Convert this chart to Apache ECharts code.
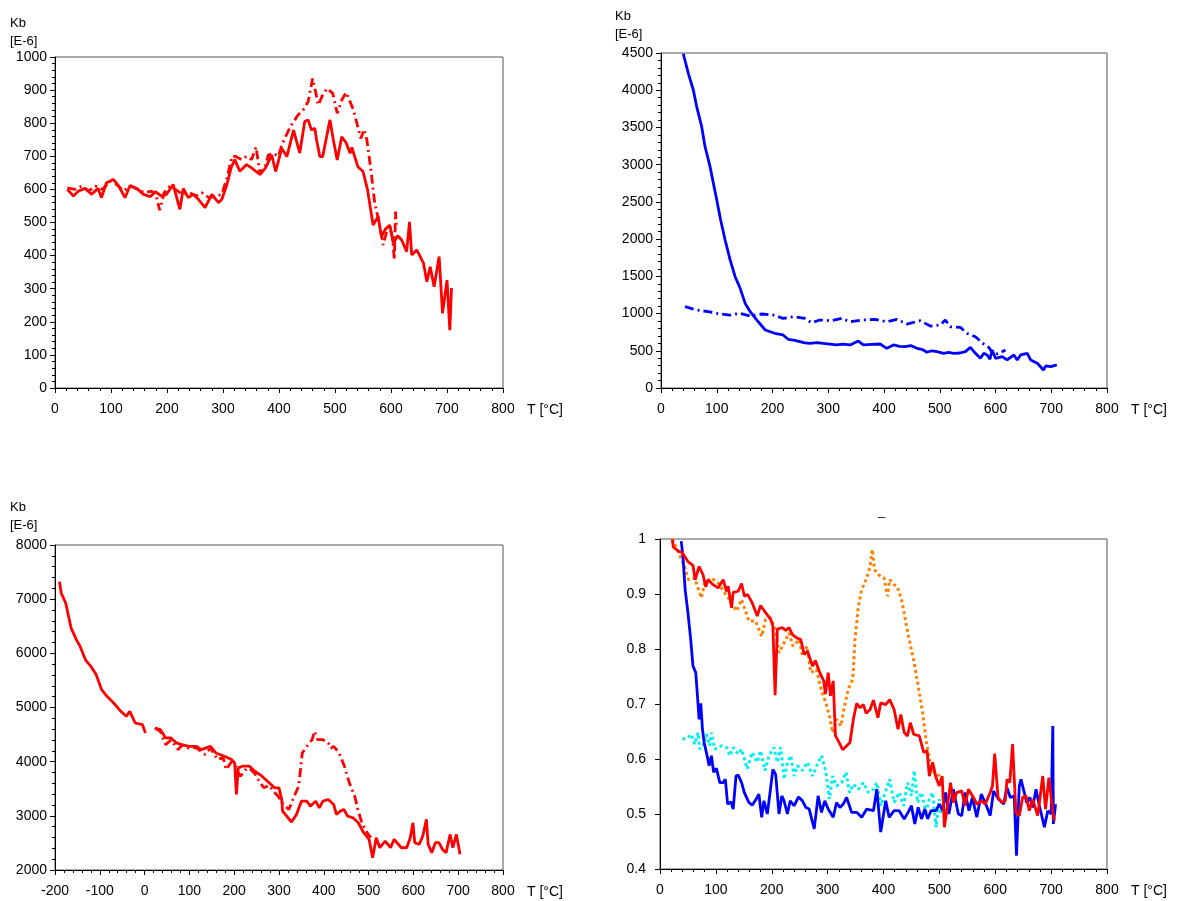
<!DOCTYPE html>
<html>
<head>
<meta charset="utf-8" />
<title>Kb vs T</title>
<script src="https://cdn.jsdelivr.net/npm/echarts@6/dist/echarts.min.js"></script>
<style>
  * { margin: 0; padding: 0; }
  body { background: #fff; }
  #chart-container { width: 1183px; height: 901px; }
</style>
</head>
<body>
<div id="chart-container"></div>
<script>
// panel 1: Kb [E-6], 0..1000
var p1Solid = [
  [22,600],[33,580],[42,595],[54,603],[65,585],[77,603],[83,575],[92,620],[104,630],[113,612],
  [125,575],[134,612],[146,603],[158,585],[170,578],[179,593],[190,580],[199,585],[211,615],[223,540],
  [229,603],[238,575],[247,585],[256,570],[268,545],[280,585],[292,560],[298,570],[307,615],[315,668],
  [321,690],[330,655],[342,675],[351,665],[366,645],[376,665],[387,704],[394,654],[405,724],[414,699],
  [426,779],[437,710],[446,805],[452,810],[458,779],[464,785],[467,750],[473,699],[478,699],[485,759],
  [491,810],[497,750],[504,689],[512,759],[520,740],[527,709],[530,727],[541,668],[550,654],[558,600],
  [568,492],[577,518],[583,457],[590,480],[598,492],[604,437],[612,460],[619,447],[628,412],[633,502],
  [637,402],[646,417],[658,377],[664,321],[670,366],[677,306],[686,397],[692,226],[700,326],[705,175],
  [708,302]
];
var p1Dash = [
  [22,605],[35,600],[48,610],[60,595],[72,610],[85,600],[98,625],[110,615],[122,595],[135,610],
  [148,600],[160,590],[172,595],[180,585],[187,537],[195,590],[205,610],[215,600],[228,585],[240,590],
  [252,580],[262,590],[275,575],[288,580],[298,585],[308,640],[316,700],[322,700],[333,690],[342,700],
  [351,690],[359,728],[366,648],[375,669],[381,704],[390,709],[399,700],[405,734],[420,789],[434,825],
  [443,840],[452,865],[460,935],[466,890],[470,855],[478,885],[486,905],[496,890],[504,830],[512,870],
  [520,893],[533,840],[546,754],[552,781],[557,749],[564,660],[571,558],[579,500],[586,432],[592,470],
  [598,487],[603,450],[606,387],[608,533],[610,480]
];

// panel 2: Kb [E-6], 0..4500
var p2Solid = [
  [40,4490],[49,4227],[58,4003],[64,3779],[73,3510],[79,3242],[88,2973],[94,2749],[100,2525],[107,2257],
  [115,1988],[124,1720],[133,1495],[142,1339],[151,1137],[160,1025],[172,913],[187,779],[204,735],[219,712],
  [228,654],[240,640],[249,623],[258,605],[267,600],[280,610],[291,600],[303,590],[315,578],[327,590],
  [339,578],[354,631],[363,578],[378,585],[393,591],[405,533],[417,578],[428,560],[438,555],[448,570],
  [459,533],[468,520],[477,480],[486,500],[495,488],[507,466],[516,480],[525,466],[536,470],[546,488],
  [555,546],[564,466],[573,399],[579,466],[585,444],[590,386],[594,511],[600,399],[612,421],[621,377],
  [633,444],[639,377],[645,444],[657,466],[663,377],[675,332],[686,242],[690,296],[699,287],[710,310]
];
var p2Dash = [
  [43,1092],[64,1047],[85,1025],[100,1003],[124,980],[142,1003],[160,967],[181,994],[202,980],[219,935],
  [237,958],[258,935],[270,877],[285,913],[306,904],[324,935],[339,890],[363,913],[384,922],[405,890],
  [423,922],[441,859],[465,904],[483,832],[501,846],[510,913],[519,823],[537,814],[549,734],[564,689],
  [579,590],[588,546],[597,444],[606,466],[618,511]
];

// panel 3: Kb [E-6], 2000..8000
var p3Solid = [
  [-190,7324],[-186,7110],[-176,6925],[-164,6465],[-152,6250],[-144,6127],[-132,5881],[-120,5760],[-108,5605],[-96,5330],
  [-84,5207],[-69,5083],[-53,4930],[-41,4837],[-33,4930],[-21,4714],[-5,4684],[2,4530],[10,'-'],
  [23,4622],[35,4592],[47,4438],[59,4438],[71,4346],[83,4315],[99,4284],[115,4284],[127,4223],[147,4284],
  [159,4161],[178,4100],[194,4039],[201,3977],[205,3394],[209,3885],[218,3916],[234,3916],[246,3824],[262,3732],
  [278,3609],[290,3517],[300,3517],[306,3302],[308,3087],[314,3026],[328,2886],[339,3026],[350,3271],[362,3271],
  [370,3179],[382,3271],[390,3148],[398,3271],[410,3302],[422,3210],[428,3026],[437,3087],[445,3118],[453,2995],
  [465,2964],[477,2872],[489,2688],[501,2566],[509,2227],[517,2596],[525,2411],[537,2534],[549,2411],[557,2566],
  [573,2411],[585,2411],[593,2596],[599,2872],[603,2504],[613,2473],[621,2627],[629,2934],[633,2473],[641,2320],
  [649,2504],[657,2504],[665,2381],[673,2320],[682,2657],[688,2411],[696,2657],[704,2289]
];
var p3Dash = [
  [23,4622],[35,4560],[47,4315],[59,4400],[75,4223],[83,4300],[99,4250],[115,4260],[135,4130],[147,4250],
  [163,4039],[175,4080],[182,3854],[194,4000],[201,3950],[209,3800],[214,3732],[225,3850],[234,3880],[246,3780],
  [255,3650],[266,3517],[278,3560],[288,3450],[298,3363],[306,3250],[314,3179],[322,3118],[334,3363],[344,3547],
  [352,4161],[362,4284],[374,4407],[379,4561],[386,4407],[398,4407],[410,4346],[416,4250],[422,4284],[434,4161],
  [446,3916],[457,3609],[469,3363],[477,3087],[485,2872],[497,2688],[505,2600]
];

// panel 4: normalised, 0.4..1
var p4Red = [
  [22,0.999],[24,0.985],[33,0.978],[40,0.975],[50,0.959],[59,0.952],[63,0.926],[70,0.950],[77,0.935],[82,0.913],
  [86,0.926],[95,0.917],[104,0.911],[113,0.926],[119,0.905],[122,0.914],[128,0.875],[131,0.903],[140,0.905],[146,0.919],
  [151,0.896],[157,0.899],[165,0.884],[174,0.860],[180,0.879],[189,0.866],[198,0.854],[202,0.842],[206,0.716],[210,0.836],
  [219,0.839],[225,0.834],[231,0.839],[237,0.826],[245,0.820],[252,0.817],[258,0.790],[264,0.796],[273,0.769],[278,0.779],
  [286,0.757],[293,0.742],[296,0.718],[301,0.757],[305,0.715],[310,0.742],[314,0.642],[319,0.633],[327,0.617],[340,0.630],
  [346,0.672],[352,0.701],[358,0.693],[364,0.699],[369,0.683],[376,0.690],[382,0.707],[390,0.675],[395,0.702],[404,0.699],
  [411,0.708],[419,0.690],[426,0.654],[431,0.681],[437,0.648],[443,0.642],[448,0.666],[454,0.645],[464,0.642],[472,0.612],
  [478,0.615],[482,0.569],[488,0.594],[494,0.566],[500,0.551],[505,0.569],[509,0.476],[516,0.527],[520,0.557],[525,0.521],
  [531,0.539],[540,0.542],[546,0.515],[552,0.545],[561,0.530],[567,0.518],[575,0.524],[582,0.518],[591,0.539],[595,0.551],
  [599,0.610],[605,0.530],[612,0.521],[618,0.524],[621,0.563],[626,0.557],[631,0.627],[637,0.503],[643,0.497],[649,0.530],
  [655,0.533],[661,0.506],[667,0.527],[676,0.497],[685,0.569],[690,0.509],[696,0.566],[703,0.503],[706,0.488]
];
var p4Orange = [
  [22,1.0],[28,0.987],[44,0.950],[51,0.926],[62,0.929],[74,0.893],[80,0.920],[92,0.929],[104,0.920],[116,0.902],
  [128,0.884],[137,0.869],[146,0.890],[159,0.851],[171,0.851],[182,0.823],[189,0.854],[198,0.857],[207,0.833],[213,0.793],
  [222,0.811],[231,0.829],[238,0.805],[249,0.817],[255,0.787],[263,0.805],[270,0.757],[280,0.763],[289,0.724],[297,0.702],
  [304,0.675],[309,0.648],[316,0.672],[324,0.660],[329,0.690],[337,0.727],[345,0.745],[349,0.817],[355,0.878],[361,0.908],
  [370,0.929],[376,0.950],[380,0.981],[384,0.944],[391,0.935],[401,0.929],[407,0.896],[411,0.926],[419,0.917],[425,0.913],
  [433,0.887],[440,0.848],[446,0.817],[455,0.775],[464,0.721],[470,0.684],[476,0.636],[482,0.600],[491,0.575],[500,0.569],
  [506,0.554]
];
var p4Blue = [
  [38,0.996],[41,0.969],[45,0.908],[50,0.866],[55,0.817],[59,0.769],[64,0.757],[67,0.715],[70,0.672],[73,0.701],
  [76,0.654],[79,0.630],[83,0.612],[88,0.588],[92,0.606],[96,0.576],[101,0.583],[107,0.557],[113,0.557],[117,0.563],
  [121,0.518],[127,0.522],[131,0.509],[136,0.569],[140,0.571],[146,0.557],[151,0.539],[159,0.521],[165,0.516],[172,0.527],
  [177,0.536],[182,0.494],[186,0.524],[192,0.500],[197,0.539],[202,0.581],[207,0.572],[213,0.500],[218,0.533],[222,0.524],
  [228,0.500],[233,0.524],[240,0.515],[248,0.531],[255,0.524],[261,0.512],[267,0.509],[276,0.473],[283,0.533],[289,0.503],
  [295,0.524],[301,0.509],[310,0.494],[316,0.521],[322,0.512],[328,0.518],[334,0.530],[343,0.503],[352,0.503],[361,0.494],
  [370,0.509],[382,0.506],[388,0.545],[395,0.467],[404,0.524],[410,0.494],[419,0.506],[428,0.506],[437,0.491],[444,0.503],
  [450,0.515],[456,0.482],[462,0.512],[468,0.491],[474,0.509],[479,0.491],[485,0.506],[494,0.506],[500,0.518],[506,0.506],
  [511,0.539],[517,0.500],[525,0.545],[534,0.500],[540,0.497],[546,0.539],[553,0.506],[559,0.530],[567,0.494],[575,0.536],
  [582,0.521],[591,0.497],[597,0.542],[606,0.527],[615,0.518],[621,0.548],[627,0.530],[634,0.533],[638,0.424],[643,0.551],
  [646,0.563],[652,0.539],[656,0.521],[662,0.530],[667,0.512],[673,0.545],[679,0.515],[688,0.476],[694,0.506],[700,0.500],
  [703,0.660],[704,0.482],[708,0.518]
];
var p4Cyan = [
  [40,0.636],[50,0.639],[56,0.645],[62,0.627],[68,0.648],[71,0.618],[77,0.624],[83,0.645],[89,0.624],[92,0.648],
  [98,0.618],[110,0.624],[119,0.621],[125,0.606],[131,0.621],[140,0.609],[146,0.618],[156,0.582],[165,0.612],[174,0.594],
  [180,0.615],[188,0.579],[195,0.606],[204,0.621],[210,0.594],[216,0.621],[222,0.563],[228,0.594],[234,0.606],[240,0.569],
  [246,0.588],[255,0.579],[264,0.594],[273,0.569],[283,0.594],[289,0.606],[297,0.576],[303,0.527],[309,0.569],[316,0.551],
  [325,0.557],[333,0.576],[339,0.539],[346,0.554],[355,0.545],[364,0.557],[373,0.539],[382,0.545],[388,0.557],[395,0.515],
  [404,0.542],[411,0.563],[419,0.521],[428,0.539],[436,0.515],[443,0.557],[450,0.533],[455,0.579],[461,0.521],[468,0.539],
  [476,0.503],[482,0.527],[488,0.539],[494,0.476],[500,0.527],[503,0.500]
];

var tickFont = { color: '#000', fontSize: 14, fontFamily: 'Liberation Sans, Arial, sans-serif' };
var red = '#ff0000', blue = '#0000ff', orange = '#ff8000', cyan = '#00f0f0';
var dashDot = [9, 4, 2, 4];
var plain = function (v) { return String(v); };

function xAx(idx, min) {
  return {
    type: 'value', gridIndex: idx, min: min, max: 800, interval: 100,
    axisLine: { show: true, onZero: false, lineStyle: { color: '#000', width: 1 } },
    axisTick: { show: true, length: 5, lineStyle: { color: '#000' } },
    minorTick: { show: true, splitNumber: 5, length: 3, lineStyle: { color: '#000' } },
    splitLine: { show: false },
    axisLabel: Object.assign({ margin: 14, formatter: plain }, tickFont),
    name: 'T [°C]',
    nameLocation: 'end', nameGap: 24,
    nameTextStyle: Object.assign({ verticalAlign: 'top', padding: [15, 0, 0, 0] }, tickFont)
  };
}
function yAx(idx, min, max, interval, minor, margin) {
  return {
    type: 'value', gridIndex: idx, min: min, max: max, interval: interval,
    axisLine: { show: true, onZero: false, lineStyle: { color: '#000', width: 1 } },
    axisTick: { show: true, length: 5, lineStyle: { color: '#000' } },
    minorTick: { show: minor, splitNumber: 5, length: 3, lineStyle: { color: '#000' } },
    splitLine: { show: false },
    axisLabel: Object.assign({ margin: margin, formatter: plain }, tickFont)
  };
}
function ln(idx, data, color, type, width) {
  return {
    type: 'line', xAxisIndex: idx, yAxisIndex: idx, data: data,
    showSymbol: false, symbol: 'none', connectNulls: false,
    lineStyle: { color: color, width: width || 2.8, type: type || 'solid' }
  };
}

var gridBox = { show: true, borderColor: '#555', borderWidth: 1, backgroundColor: 'transparent' };
var unitStyle = { text: 'Kb\n[E-6]', lineHeight: 18, fill: '#000', font: '13px Liberation Sans' };

var option = {
  animation: false,
  backgroundColor: '#fff',
  grid: [
    Object.assign({ left: 55, top: 57, width: 448, height: 331 }, gridBox),
    Object.assign({ left: 661, top: 53, width: 446, height: 335 }, gridBox),
    Object.assign({ left: 55, top: 545, width: 448, height: 325 }, gridBox),
    Object.assign({ left: 660, top: 539, width: 447, height: 330 }, gridBox)
  ],
  xAxis: [xAx(0, 0), xAx(1, 0), xAx(2, -200), xAx(3, 0)],
  yAxis: [
    yAx(0, 0, 1000, 100, true, 8),
    yAx(1, 0, 4500, 500, true, 8),
    yAx(2, 2000, 8000, 1000, true, 8),
    yAx(3, 0.4, 1, 0.1, false, 14)
  ],
  graphic: [
    { type: 'text', left: 10, top: 14, style: unitStyle },
    { type: 'text', left: 615, top: 7, style: unitStyle },
    { type: 'text', left: 10, top: 498, style: unitStyle },
    { type: 'text', left: 878, top: 505, style: { text: '_', fill: '#000', font: '13px Liberation Sans' } }
  ],
  series: [
    ln(0, p1Dash, red, dashDot),
    ln(0, p1Solid, red),
    ln(1, p2Dash, blue, dashDot),
    ln(1, p2Solid, blue),
    ln(2, p3Dash, red, dashDot),
    ln(2, p3Solid, red),
    ln(3, p4Cyan, cyan, [3, 3], 3),
    ln(3, p4Orange, orange, [3, 3], 3),
    ln(3, p4Blue, blue),
    ln(3, p4Red, red)
  ]
};

var myChart = echarts.init(document.getElementById('chart-container'), null, { renderer: 'canvas' });
myChart.setOption(option);
window.addEventListener('resize', myChart.resize);
</script>
</body>
</html>
